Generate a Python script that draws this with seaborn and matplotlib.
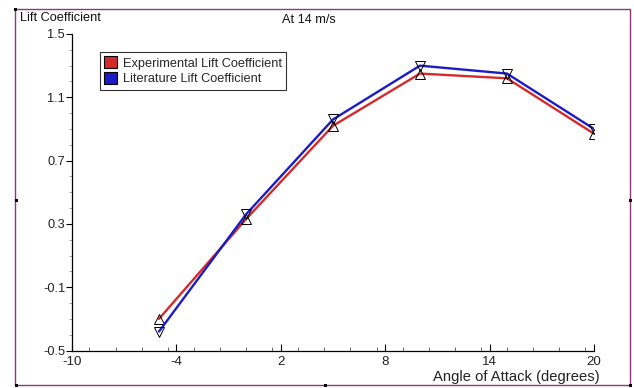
import matplotlib
matplotlib.use("Agg")
import matplotlib.pyplot as plt
import seaborn as sns
import pandas as pd
import numpy as np
from matplotlib.patches import Patch, Rectangle
from matplotlib.ticker import MultipleLocator

angles = [-5, 0, 5, 10, 15, 20]
experimental = [-0.30, 0.33, 0.92, 1.25, 1.22, 0.87]
literature = [-0.38, 0.36, 0.96, 1.30, 1.25, 0.90]
series_names = ["Experimental Lift Coefficient", "Literature Lift Coefficient"]
x_ticks = [-10, -4, 2, 8, 14, 20]
y_ticks = [-0.5, -0.1, 0.3, 0.7, 1.1, 1.5]

sns.set_theme(style="white")
plt.rcParams["font.family"] = ["Liberation Sans", "DejaVu Sans"]

FS = 9.2

df = pd.DataFrame({
    "angle": angles * 2,
    "cl": experimental + literature,
    "series": [series_names[0]] * len(angles) + [series_names[1]] * len(angles),
})

fig = plt.figure(figsize=(6.34, 3.88), dpi=100)
ax = fig.add_axes([72 / 634, 1 - 350.5 / 388, (594 - 72) / 634, (350.5 - 34) / 388])

colors = {series_names[0]: "#d42a2a", series_names[1]: "#1c1cc4"}
markers = {series_names[0]: "^", series_names[1]: "v"}
sns.lineplot(data=df, x="angle", y="cl", hue="series", style="series",
             palette=colors, markers=markers, dashes=False, ax=ax,
             linewidth=1.7, markersize=6.5, markerfacecolor="none",
             markeredgecolor="black", markeredgewidth=0.7, legend=False)

ax.set_xlim(-10, 20)
ax.set_ylim(-0.5, 1.5)
ax.set_xticks(x_ticks)
ax.set_xticklabels([str(v) for v in x_ticks])
ax.set_yticks(y_ticks)
ax.set_yticklabels([f"{v:g}" for v in y_ticks])
ax.xaxis.set_minor_locator(MultipleLocator(1.5))
ax.yaxis.set_minor_locator(MultipleLocator(0.1))
ax.tick_params(axis="x", which="major", direction="in", length=5, width=0.8,
               labelsize=9.6, pad=4, colors="black", labelcolor="#222222", bottom=True)
ax.tick_params(axis="x", which="minor", direction="in", length=3, width=0.6,
               colors="#555555", bottom=True)
ax.tick_params(axis="y", which="major", direction="out", length=4, width=0.8,
               labelsize=FS, pad=1, colors="black", labelcolor="#222222", left=True)
ax.tick_params(axis="y", which="minor", direction="out", length=2.5, width=0.6,
               colors="#999999", left=True)

for s in ["top", "right"]:
    ax.spines[s].set_visible(False)
for s in ["left", "bottom"]:
    ax.spines[s].set_visible(True)
    ax.spines[s].set_color("black")
    ax.spines[s].set_linewidth(0.9)
ax.set_xlabel("")
ax.set_ylabel("")

fig.text(20 / 634, 1 - 18 / 388, "Lift Coefficient", fontsize=FS, ha="left", va="center", color="#111111")
fig.text(309 / 634, 1 - 20 / 388, "At 14 m/s", fontsize=FS, ha="center", va="center", color="#111111")
fig.text(600 / 634, 1 - 377 / 388, "Angle of Attack (degrees)", fontsize=10.6, ha="right", va="center", color="#222222")

handles = [Patch(facecolor=colors[n], edgecolor="black", linewidth=0.8) for n in series_names]
leg = ax.legend(handles, series_names, loc="upper left",
                bbox_to_anchor=((100 - 72) / (594 - 72), 1 - (52 - 34) / (350.5 - 34)),
                frameon=True, fancybox=False, fontsize=FS, handlelength=1.0,
                handleheight=1.0, handletextpad=0.45, borderpad=0.35, labelspacing=0.2,
                borderaxespad=0)
leg.get_frame().set_edgecolor("black")
leg.get_frame().set_linewidth(0.8)

border = Rectangle((15 / 634, 1 - 385 / 388), 615 / 634, 376 / 388, transform=fig.transFigure,
                   fill=False, edgecolor="#8e3a72", linewidth=1.0)
fig.patches.append(border)

# small black handle marks on the frame
for (px, py) in [(15, 9), (16, 200), (16, 385), (325, 385), (630, 385), (630, 200)]:
    fig.patches.append(Rectangle(((px - 1.5) / 634, 1 - (py + 1.5) / 388), 3 / 634, 3 / 388,
                                 transform=fig.transFigure, facecolor="black", edgecolor="none"))

fig.savefig("out.png", dpi=100, facecolor="white")
